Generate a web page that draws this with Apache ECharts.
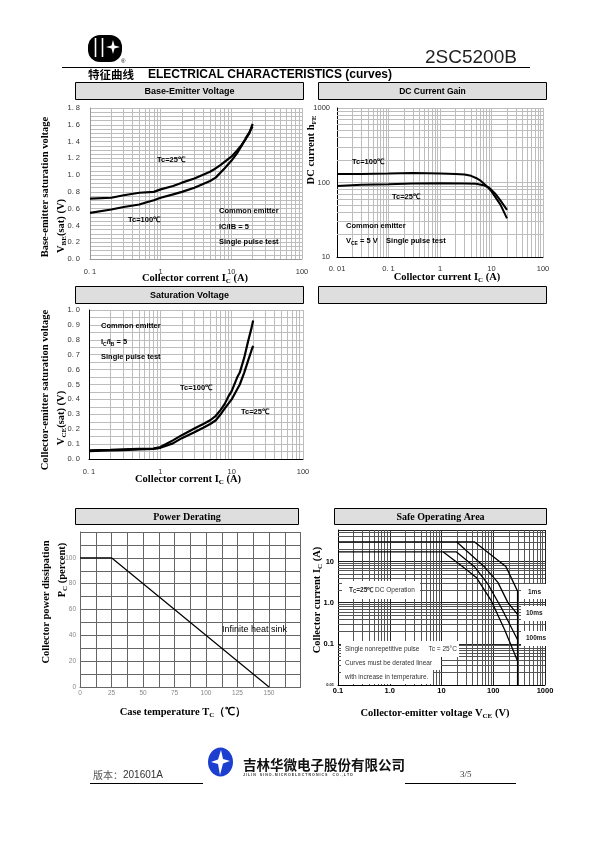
<!DOCTYPE html>
<html><head><meta charset="utf-8">
<script src="https://cdn.jsdelivr.net/npm/echarts@6/dist/echarts.min.js"></script>
<style>html,body{margin:0;padding:0;background:#fff}#c{width:595px;height:842px}</style>
</head><body><div id="c"></div>
<script>
// ---------- DATA ----------
// Base-Emitter saturation voltage vs Ic
const beIc25 = [0.1,0.2,0.3,0.5,0.8,1.0,1.5,2,3,5,5.5,7,10,12,14,16,18,20];
const beV25  = [0.72,0.73,0.76,0.79,0.80,0.83,0.87,0.91,0.96,1.04,1.06,1.12,1.22,1.29,1.36,1.43,1.50,1.61];
const beIc100 = [0.1,0.2,0.3,0.5,0.6,0.8,1.0,1.5,2,3,5,6,8,10,12,14,16,18,20];
const beV100  = [0.55,0.59,0.62,0.65,0.67,0.70,0.73,0.77,0.80,0.85,0.93,0.97,1.08,1.17,1.26,1.35,1.44,1.51,1.58];
const beXLabels = {'-1':'0. 1','0':'1','1':'10','2':'100'};
// DC current gain vs Ic
const hfeIc100 = [0.01,0.03,0.1,0.3,1,2,3,4,5,6,8,10,15,20];
const hfe100   = [130,130,132,134,132,130,128,123,115,107,90,76,50,33];
const hfeIc25  = [0.01,0.03,0.1,0.3,1,3,5,7,9,12,15,20];
const hfe25    = [90,93,95,97,98,97,96,92,85,70,57,43];
const hfeXLabels = {'-2':'0. 01','-1':'0. 1','0':'1','1':'10','2':'100'};
const hfeYLabels = {'1':'10','2':'100','3':'1000'};
// Collector-emitter saturation voltage vs Ic
const ceIc100 = [0.1,0.2,0.3,0.5,0.8,1,1.5,2,3,4,5,6,7,8,9,10,12,13,15,17,19,20];
const ceV100  = [0.058,0.062,0.065,0.068,0.07,0.08,0.125,0.16,0.205,0.235,0.26,0.29,0.33,0.37,0.42,0.455,0.55,0.58,0.68,0.79,0.88,0.93];
const ceIc25  = [0.1,0.2,0.3,0.5,0.8,1,1.5,2,3,4,5,6,7,8,10,12,13,15,17,19,20];
const ceV25   = [0.053,0.057,0.06,0.065,0.068,0.075,0.105,0.14,0.18,0.21,0.235,0.26,0.3,0.34,0.4,0.47,0.5,0.58,0.66,0.73,0.76];
const ceXLabels = {'-1':'0. 1','0':'1','1':'10','2':'100'};
// Power derating
const pdTemp = [0,25,150];
const pdPct  = [100,100,0];
// Safe operating area
const soa1msV = [0.1,43,175,295,295];
const soa1msI = [30,30,7.5,1.9,0.01];
const soa10msV = [19.5,68,123,192,295];
const soa10msI = [30,7.3,3.1,1.0,0.52];
const soa100msV = [0.1,19.5,44,79,143,295];
const soa100msI = [17,17,7.3,2.8,0.75,0.125];
const soaDcV = [10.8,24,47,92,166,295];
const soaDcI = [17,8,4.1,1.1,0.22,0.038];
const soaXLabels = {'-1':'0.1','0':'1.0','1':'10','2':'100','3':'1000'};
const soaYLabels = {'-2':'0.01','-1':'0.1','0':'1.0','1':'10'};

// ---------- HELPERS ----------
const SANS = 'Liberation Sans', SERIF = 'Liberation Serif', CJK = 'Noto Sans CJK SC';
const zip = (a,b) => a.map((v,i)=>[v,b[i]]);
const logFmt = map => v => {
  const k = Math.log10(v);
  const r = Math.round(k);
  if (Math.abs(k-r) > 1e-6) return '';
  return map[String(r)] || '';
};
const minorLog = (lo, hi) => { const out=[]; for (let d=lo; d<hi*0.999; d*=10) for (let m=2;m<=9;m++) out.push(+(m*d).toPrecision(6)); return out; };
const gridSeries = (i, xs, ys, color, x0, y0) => ({
  type:'line', xAxisIndex:i, yAxisIndex:i, data:[[x0,y0]], symbol:'none', silent:true, z:1,
  lineStyle:{opacity:0},
  markLine:{silent:true, symbol:'none', z:1, label:{show:false}, animation:false,
    lineStyle:{color, width:1, type:'solid'},
    emphasis:{disabled:true},
    data: xs.map(v=>({xAxis:v})).concat(ys.map(v=>({yAxis:v})))}
});
const curve = (i, d, w) => ({type:'line', xAxisIndex:i, yAxisIndex:i, data:d, symbol:'none', silent:true, z:6,
  lineStyle:{color:'#000', width:w}});
const tickFont = {fontFamily:SANS, fontSize:7.5, color:'#333'};

// ---------- GRAPHICS ----------
const G = [];
const T = (x,y,text,font,o={}) => G.push({type:'text', x, y, z:20, rotation:o.rot||0,
  style:{text, font, fill:o.fill||'#000', align:o.align||'left', verticalAlign:o.va||'middle', rich:o.rich}});
const R = (x,y,w,h,fill,stroke,z=15,lw=1) => G.push({type:'rect', z, shape:{x,y,width:w,height:h},
  style:{fill, stroke:stroke||null, lineWidth:lw}});
const L = (x1,y1,x2,y2,c='#000',w=1) => G.push({type:'line', z:15, shape:{x1,y1,x2,y2}, style:{stroke:c, lineWidth:w}});
const rs = (size, fam=SERIF, wt='bold') => ({
  n:{fontFamily:fam, fontWeight:wt, fontSize:size, fill:'#000', lineHeight:size+3},
  s:{fontFamily:fam, fontWeight:wt, fontSize:Math.round(size*0.65), fill:'#000', lineHeight:Math.round(size*0.55), verticalAlign:'bottom'}
});

// header
R(88,35,34,27,'#000',null,15); G[G.length-1].shape.r = 12;
L(95.5,38,95.5,57,'#fff',1.6); L(102.5,38,102.5,57,'#fff',1.6);
G.push({type:'polygon', z:16, shape:{points:[[113,40],[114.5,45.5],[120,47],[114.5,48.5],[113,54],[111.5,48.5],[106,47],[111.5,45.5]]}, style:{fill:'#fff'}});
T(121,61,'®','6px '+SANS);
T(425,58,'2SC5200B','19px '+SANS,{fill:'#222'});
L(62,67.5,530,67.5,'#000',1);
T(88,74.5,'特征曲线','bold 11.5px '+CJK);
T(148,74.5,'ELECTRICAL CHARACTERISTICS (curves)','bold 12px '+SANS);

// panel title bars
const bar = (x,y,w,h,text,font) => { R(x,y,w,h,'#dedede','#000',15,1); T(x+w/2,y+h/2+0.5,text,font,{align:'center'}); };
bar(75.5,82.5,228,17,'Base-Emitter Voltage','bold 9px '+SANS);
bar(318.5,82.5,228,17,'DC Current Gain','bold 8.5px '+SANS);
bar(75.5,286.5,228,17,'Saturation Voltage','bold 9px '+SANS);
bar(318.5,286.5,228,17,'','bold 9px '+SANS);
bar(75.5,508.5,223,16,'Power Derating','bold 10px '+SERIF);
bar(334.5,508.5,212,16,'Safe Operating Area','bold 10px '+SERIF);

// axis names
T(45,187,'Base-emitter saturation voltage','bold 10.5px '+SERIF,{rot:Math.PI/2,align:'center'});
T(61,226,'{n|V}{s|BE}{n|(sat) (V)}','',{rot:Math.PI/2,align:'center',rich:rs(10.5)});
T(195,278,'{n|Collector corrent I}{s|C}{n| (A)}','',{align:'center',rich:rs(10.5)});
T(311,150,'{n|DC current h}{s|FE}','',{rot:Math.PI/2,align:'center',rich:rs(10.5)});
T(447,277,'{n|Collector current I}{s|C}{n| (A)}','',{align:'center',rich:rs(10.5)});
T(45,390,'Collector-emitter saturation voltage','bold 10.5px '+SERIF,{rot:Math.PI/2,align:'center'});
T(61,418,'{n|V}{s|CE}{n|(sat) (V)}','',{rot:Math.PI/2,align:'center',rich:rs(10.5)});
T(188,479,'{n|Collector corrent I}{s|C}{n| (A)}','',{align:'center',rich:rs(10.5)});
T(46,602,'Collector power dissipation','bold 10.5px '+SERIF,{rot:Math.PI/2,align:'center'});
T(62,570,'{n|P}{s|C}{n| (percent)}','',{rot:Math.PI/2,align:'center',rich:rs(10.5)});
T(183,712,'{n|Case temperature T}{s|C}{n|（℃）}','',{align:'center',rich:rs(10.5)});
T(317,600,'{n|Collector current I}{s|C}{n| (A)}','',{rot:Math.PI/2,align:'center',rich:rs(10.5)});
T(435,713,'{n|Collector-emitter voltage V}{s|CE}{n| (V)}','',{align:'center',rich:rs(10.5)});

// in-plot annotations
const AF = 'bold 7.5px '+SANS;
T(157,160,'Tc=25℃',AF); T(128,220,'Tc=100℃',AF);
T(219,211,'Common emitter',AF); T(219,227,'IC/IB = 5',AF); T(219,242,'Single pulse test',AF);
T(352,162,'Tc=100℃',AF); T(392,197,'Tc=25℃',AF);
T(346,226,'Common emitter',AF);
T(346,241,'{a|V}{b|CE}{a| = 5 V    Single pulse test}','',{rich:{a:{fontFamily:SANS,fontWeight:'bold',fontSize:7.5,fill:'#000',lineHeight:10},b:{fontFamily:SANS,fontWeight:'bold',fontSize:5,fill:'#000',lineHeight:5,verticalAlign:'bottom'}}});
T(101,326,'Common emitter',AF);
T(101,342,'{a|I}{b|C}{a|/I}{b|B}{a| = 5}','',{rich:{a:{fontFamily:SANS,fontWeight:'bold',fontSize:7.5,fill:'#000',lineHeight:10},b:{fontFamily:SANS,fontWeight:'bold',fontSize:5,fill:'#000',lineHeight:5,verticalAlign:'bottom'}}});
T(101,357,'Single pulse test',AF);
T(180,388,'Tc=100℃',AF); T(241,412,'Tc=25℃',AF);
T(222,630,'Infinite heat sink','9px '+SANS);
// SOA labels with white boxes
R(342,581,78,18,'#fff',null,12);
T(349,590,'{a|T}{b|C}{a|=25℃ }{c|DC Operation}','',{rich:{a:{fontFamily:SANS,fontWeight:'bold',fontSize:6.5,fill:'#222',lineHeight:9},b:{fontFamily:SANS,fontWeight:'bold',fontSize:4.5,fill:'#222',lineHeight:4,verticalAlign:'bottom'},c:{fontFamily:SANS,fontSize:6.5,fill:'#333',lineHeight:9}}});
R(521,584,25,15,'#fff',null,12); R(521,606,25,15,'#fff',null,12); R(521,631,25,15,'#fff',null,12);
const SF = 'bold 6.5px '+SANS;
T(528,592,'1ms',SF,{fill:'#222'}); T(526,613,'10ms',SF,{fill:'#222'}); T(526,638,'100ms',SF,{fill:'#222'});
R(341,641,118,16,'#fff',null,12); R(341,656,100,14,'#fff',null,12); R(341,670,92,14,'#fff',null,12);
const NF = '6.5px '+SANS;
T(345,649,'Single nonrepetitive pulse     Tc = 25°C',NF,{fill:'#333'});
T(345,663,'Curves must be derated linear',NF,{fill:'#333'});
T(345,677,'with increase in temperature.',NF,{fill:'#333'});

// footer
T(93,775,'版本：','10px '+CJK,{fill:'#555'});
T(123,775,'201601A','10px '+SANS,{fill:'#333'});
L(90,783.5,203,783.5,'#000',1);
G.push({type:'ellipse', z:15, shape:{cx:220.5,cy:762,rx:12.5,ry:14.5}, style:{fill:'#1d3fd0'}});
G.push({type:'polygon', z:16, shape:{points:[[221,750],[223,759],[230,761],[223,763.5],[220,775],[218,764],[211,762],[218,759.5]]}, style:{fill:'#fff'}});
T(243,765,'吉林华微电子股份有限公司','bold 13.5px '+CJK,{fill:'#111'});
T(243,774.5,'J I L I N    S I N O - M I C R O E L E C T R O N I C S     C O . , L T D','bold 3.6px '+SANS,{fill:'#333'});
L(405,783.5,516,783.5,'#000',1);
T(460,775,'3/5','9px '+SERIF,{fill:'#333'});

// ---------- CHART ----------
const chart = echarts.init(document.getElementById('c'), null, {renderer:'canvas'});
const LG = '#bdbdbd';
chart.setOption({
  animation:false,
  backgroundColor:'#fff',
  grid:[
    {left:90, top:108, width:212, height:151},
    {left:337, top:108, width:206, height:149},
    {left:89, top:310, width:214, height:149},
    {left:80, top:532, width:220.5, height:155},
    {left:338, top:530, width:207, height:155}
  ],
  xAxis:[
    {gridIndex:0, type:'log', logBase:10, min:0.1, max:100, axisTick:{show:false},
     axisLine:{lineStyle:{color:'#999'}}, splitLine:{show:true, lineStyle:{color:LG}},
     axisLabel:{...tickFont, margin:9, formatter:logFmt(beXLabels)}},
    {gridIndex:1, type:'log', logBase:10, min:0.01, max:100, axisTick:{show:false},
     axisLine:{lineStyle:{color:'#000'}}, splitLine:{show:true, lineStyle:{color:LG}},
     axisLabel:{...tickFont, margin:8, formatter:logFmt(hfeXLabels)}},
    {gridIndex:2, type:'log', logBase:10, min:0.1, max:100, axisTick:{show:false},
     axisLine:{lineStyle:{color:'#000'}}, splitLine:{show:true, lineStyle:{color:LG}},
     axisLabel:{...tickFont, margin:9, formatter:logFmt(ceXLabels)}},
    {gridIndex:3, type:'value', min:0, max:175, interval:25, axisTick:{show:false},
     axisLine:{lineStyle:{color:'#666'}}, splitLine:{show:true, lineStyle:{color:'#666'}},
     minorTick:{show:false, splitNumber:2}, minorSplitLine:{show:true, lineStyle:{color:'#666'}},
     axisLabel:{fontFamily:SANS, fontSize:6.5, color:'#888', margin:3, showMaxLabel:false}},
    {gridIndex:4, type:'log', logBase:10, min:0.1, max:1000, axisTick:{show:false},
     axisLine:{lineStyle:{color:'#000'}}, splitLine:{show:true, lineStyle:{color:'#222'}},
     axisLabel:{fontFamily:SANS, fontWeight:'bold', fontSize:7.5, color:'#000', margin:2, formatter:logFmt(soaXLabels)}}
  ],
  yAxis:[
    {gridIndex:0, type:'value', min:0, max:1.8, interval:0.2, axisTick:{show:false},
     axisLine:{show:true, lineStyle:{color:'#999'}}, splitLine:{show:true, lineStyle:{color:LG}},
     minorTick:{show:false, splitNumber:4}, minorSplitLine:{show:true, lineStyle:{color:LG}},
     axisLabel:{...tickFont, margin:10, formatter:v=>v.toFixed(1).replace('.', '. ')}},
    {gridIndex:1, type:'log', logBase:10, min:10, max:1000, axisTick:{show:false},
     axisLine:{show:true, lineStyle:{color:'#000'}}, splitLine:{show:true, lineStyle:{color:LG}},
     axisLabel:{...tickFont, margin:7, formatter:logFmt(hfeYLabels)}},
    {gridIndex:2, type:'value', min:0, max:1.0, interval:0.1, axisTick:{show:false},
     axisLine:{show:true, lineStyle:{color:'#000'}}, splitLine:{show:true, lineStyle:{color:LG}},
     minorTick:{show:false, splitNumber:2}, minorSplitLine:{show:true, lineStyle:{color:LG}},
     axisLabel:{...tickFont, margin:9, formatter:v=>v.toFixed(1).replace('.', '. ')}},
    {gridIndex:3, type:'value', min:0, max:120, interval:20, axisTick:{show:false},
     axisLine:{show:true, lineStyle:{color:'#666'}}, splitLine:{show:true, lineStyle:{color:'#666'}},
     minorTick:{show:false, splitNumber:2}, minorSplitLine:{show:true, lineStyle:{color:'#666'}},
     axisLabel:{fontFamily:SANS, fontSize:6.5, color:'#888', margin:4, showMaxLabel:false}},
    {gridIndex:4, type:'log', logBase:10, min:0.01, max:58, axisTick:{show:false},
     axisLine:{show:true, lineStyle:{color:'#000'}}, splitLine:{show:true, lineStyle:{color:'#222'}},
     axisLabel:{fontFamily:SANS, fontWeight:'bold', fontSize:7.5, color:'#000', margin:4, showMaxLabel:false,
       formatter:v=>{const s=logFmt(soaYLabels)(v); return s==='0.01'?'{t|0.01}':s;}, rich:{t:{fontSize:4, fontWeight:'bold', fontFamily:SANS}}}}
  ],
  series:[
    gridSeries(0, minorLog(0.1,100), [], LG, 0.1, 0),
    gridSeries(1, minorLog(0.01,100), minorLog(10,1000), LG, 0.01, 10),
    gridSeries(2, minorLog(0.1,100), [], LG, 0.1, 0),
    gridSeries(4, minorLog(0.1,1000), minorLog(0.01,100).filter(v=>v<58), '#555', 0.1, 0.01),
    curve(0, zip(beIc25, beV25), 2.2),
    curve(0, zip(beIc100, beV100), 2.2),
    curve(1, zip(hfeIc100, hfe100), 2),
    curve(1, zip(hfeIc25, hfe25), 2),
    curve(2, zip(ceIc100, ceV100), 2.2),
    curve(2, zip(ceIc25, ceV25), 2.2),
    curve(3, zip(pdTemp, pdPct), 1.2),
    curve(4, zip(soa1msV, soa1msI), 1.3),
    curve(4, zip(soa10msV, soa10msI), 1.3),
    curve(4, zip(soa100msV, soa100msI), 1.3),
    curve(4, zip(soaDcV, soaDcI), 1.3)
  ],
  graphic:{elements:G}
});
</script></body></html>
